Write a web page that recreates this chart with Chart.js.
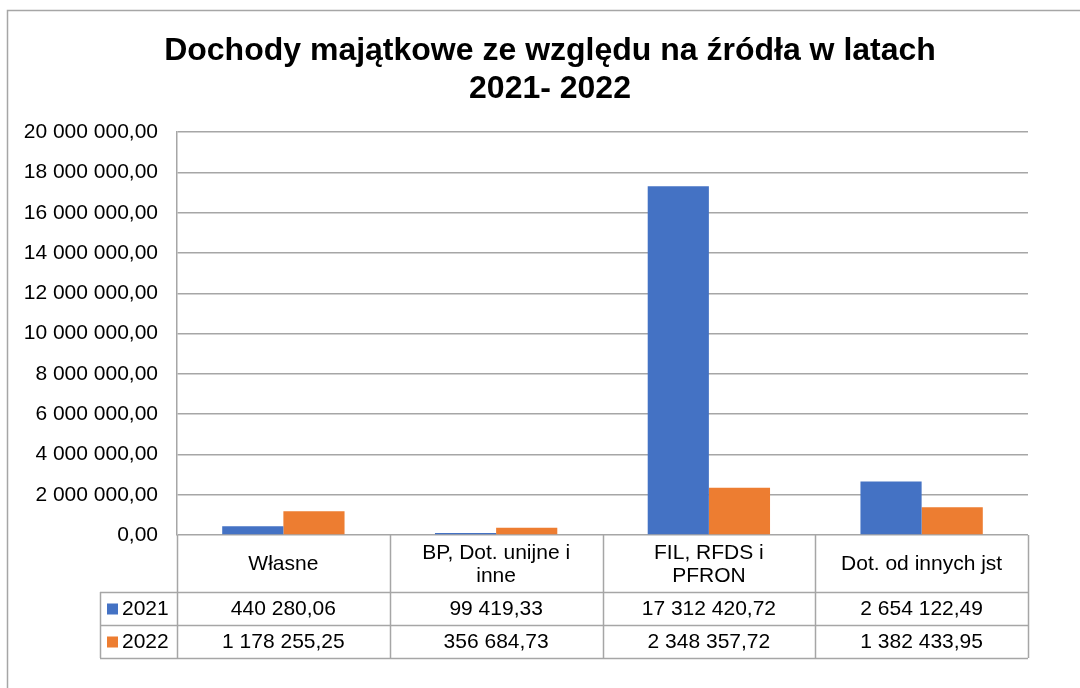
<!DOCTYPE html>
<html>
<head>
<meta charset="utf-8">
<script src="https://cdn.jsdelivr.net/npm/chart.js@4/dist/chart.umd.min.js"></script>
<style>
  html, body { margin: 0; padding: 0; background: #fff; }
  #wrap { width: 1080px; height: 688px; position: relative; }
</style>
</head>
<body>
<div id="wrap"><canvas id="chart"></canvas></div>
<script>
// data
const categories = [['Własne'], ['BP, Dot. unijne i', 'inne'], ['FIL, RFDS i', 'PFRON'], ['Dot. od innych jst']];
const seriesNames = ['2021', '2022'];
const values2021 = [440280.06, 99419.33, 17312420.72, 2654122.49];
const values2022 = [1178255.25, 356684.73, 2348357.72, 1382433.95];
const titleLines = ['Dochody majątkowe ze względu na źródła w latach', '2021- 2022'];

const colors = ['#4472C4', '#ED7D31'];
const lineColor = '#a6a6a6';
const textColor = '#000';
const FONT = '"Liberation Sans", Arial, sans-serif';

// Polish number format: 1 178 255,25
function plNum(v) {
  const parts = v.toFixed(2).split('.');
  return parts[0].replace(/\B(?=(\d{3})+(?!\d))/g, ' ') + ',' + parts[1];
}

const frame = {
  id: 'frame',
  beforeDraw(chart) {
    const ctx = chart.ctx;
    ctx.save();
    ctx.fillStyle = '#fff';
    ctx.fillRect(0, 0, chart.width, chart.height);
    ctx.strokeStyle = lineColor;
    ctx.lineWidth = 1.5;
    ctx.strokeRect(7.5, 10.5, chart.width + 20, chart.height + 20);
    ctx.restore();
  },
  // title in the reference sits a little right of the box centre
  afterLayout(chart) {
    chart.titleBlock.left += 26;
    chart.titleBlock.right += 26;
  }
};

// data table under the plot, aligned to the x scale
const dataTable = {
  id: 'dataTable',
  afterDraw(chart) {
    const ctx = chart.ctx;
    const area = chart.chartArea;
    const xs = chart.scales.x;
    const colW = (area.right - area.left) / categories.length;
    const top = area.bottom;
    const headH = 57, rowH = 33;
    const legLeft = 100;
    const rows = [values2021, values2022];
    const bottom = top + headH + rowH * rows.length;

    ctx.save();
    ctx.strokeStyle = lineColor;
    ctx.lineWidth = 1.5;
    ctx.beginPath();
    // column separators
    for (let i = 0; i <= categories.length; i++) {
      const x = Math.round(area.left + colW * i) + 0.5;
      ctx.moveTo(x, top);
      ctx.lineTo(x, bottom);
    }
    // row lines
    for (let r = 0; r <= rows.length; r++) {
      const y = Math.round(top + headH + rowH * r) + 0.5;
      ctx.moveTo(legLeft, y);
      ctx.lineTo(area.right, y);
    }
    ctx.moveTo(legLeft + 0.5, top + headH);
    ctx.lineTo(legLeft + 0.5, bottom);
    ctx.stroke();

    ctx.fillStyle = textColor;
    ctx.font = '21px ' + FONT;
    ctx.textAlign = 'center';
    ctx.textBaseline = 'middle';
    categories.forEach((lines, i) => {
      const cx = xs.getPixelForValue(i);
      const cy = top + headH / 2 + 1;
      const lh = 23;
      lines.forEach((t, k) => {
        ctx.fillText(t, cx, cy + (k - (lines.length - 1) / 2) * lh);
      });
    });

    rows.forEach((vals, r) => {
      const cy = top + headH + rowH * r + rowH / 2 + 1;
      ctx.fillStyle = colors[r];
      ctx.fillRect(legLeft + 7, cy - 6, 11, 11);
      ctx.fillStyle = textColor;
      ctx.textAlign = 'left';
      ctx.fillText(seriesNames[r], legLeft + 22, cy);
      ctx.textAlign = 'center';
      vals.forEach((v, i) => {
        ctx.fillText(plNum(v), xs.getPixelForValue(i), cy);
      });
    });
    ctx.restore();
  }
};

new Chart(document.getElementById('chart'), {
  type: 'bar',
  data: {
    labels: categories.map(c => c.join(' ')),
    datasets: [
      { label: seriesNames[0], data: values2021, backgroundColor: colors[0] },
      { label: seriesNames[1], data: values2022, backgroundColor: colors[1] }
    ]
  },
  options: {
    responsive: true,
    maintainAspectRatio: false,
    animation: false,
    layout: { padding: { left: 20, right: 52, top: 0, bottom: 153 } },
    datasets: { bar: { categoryPercentage: 0.575, barPercentage: 1 } },
    plugins: {
      legend: { display: false },
      tooltip: { enabled: false },
      title: {
        display: true,
        text: titleLines,
        color: '#000',
        font: { family: FONT, size: 32, weight: 'bold', lineHeight: 1.19 },
        padding: { top: 32, bottom: 24 }
      }
    },
    scales: {
      x: { display: false },
      y: {
        min: 0,
        max: 20000000,
        afterFit(scale) { scale.width = 157; },
        border: { display: true, color: lineColor, width: 1.5 },
        grid: { color: lineColor, lineWidth: 1.5, drawTicks: false },
        ticks: {
          stepSize: 2000000,
          padding: 19,
          color: textColor,
          font: { family: FONT, size: 21 },
          callback: v => plNum(v)
        }
      }
    }
  },
  plugins: [frame, dataTable]
});
</script>
</body>
</html>
